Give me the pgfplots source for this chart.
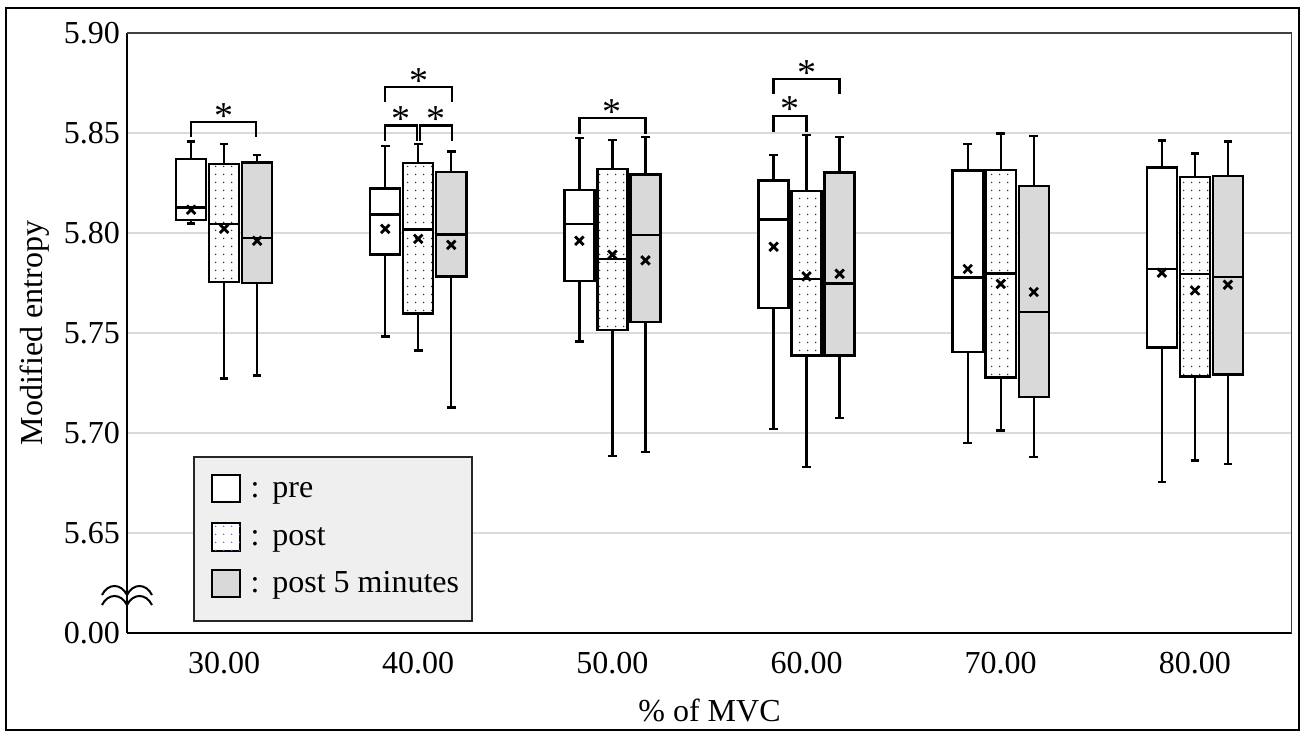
\documentclass[border=0pt]{standalone}
\usepackage{fontspec}
\setmainfont{Liberation Serif}
\usepackage{pgfplots}
\pgfplotsset{compat=1.18}
\usepgfplotslibrary{statistics}
\usetikzlibrary{patterns.meta}

\definecolor{boxgray}{HTML}{D9D9D9}
\definecolor{leggray}{HTML}{EFEFEF}
\definecolor{gridgray}{HTML}{DADADA}
\newcommand{\bigfont}{\fontsize{16}{19}\selectfont}

\pgfplotsset{
  bpre/.style={draw=black, line width=1.2pt, fill=white},
  bpost/.style={draw=black, line width=1.2pt, fill=white,
    boxplot/every box/.style={postaction={pattern={Dots[distance=4pt,radius=0.45pt]},
      pattern color=black!80}}},
  bpost5/.style={draw=black, line width=1.2pt, fill=boxgray},
}
% style, position, lower whisker, lower quartile, median, upper quartile, upper whisker
\newcommand{\onebox}[7]{%
  \addplot[#1, boxplot prepared={draw direction=y, draw position=#2, box extend=0.155,
    whisker extend=0.045, lower whisker=#3, lower quartile=#4, median=#5,
    upper quartile=#6, upper whisker=#7}] coordinates {};}
\newcommand{\bracket}[4]{% x1, x2, level, leg bottom
  \draw[line width=1.1pt] (axis cs:#1,#4) |- (axis cs:#2,#3) -- (axis cs:#2,#4);
  \node[font=\fontsize{19}{22}\selectfont, anchor=base, inner sep=0pt, yshift=-3pt]
    at (axis cs:{(#1+#2)/2},#3) {*};}

\begin{document}
\begin{tikzpicture}
\begin{scope}[x=0.5pt, y=-0.5pt, shift={(-127,-633)}]
  \useasboundingbox (0,0) rectangle (1303,734);
\end{scope}

\begin{axis}[
  at={(0,0)}, anchor=south west, scale only axis,
  width=582.5pt, height=300pt,
  xmin=-0.5, xmax=5.5, ymin=5.60, ymax=5.90,
  boxplot/draw direction=y,
  xtick={0,1,2,3,4,5},
  xticklabels={30.00,40.00,50.00,60.00,70.00,80.00},
  ytick={5.60,5.65,5.70,5.75,5.80,5.85,5.90},
  yticklabels={0.00,5.65,5.70,5.75,5.80,5.85,5.90},
  major tick length=0pt,
  axis x line*=bottom, axis y line*=left,
  axis line style={line width=1.3pt, black, -},
  ymajorgrids, grid style={gridgray, line width=0.6pt},
  tick label style={font=\bigfont, /pgf/number format/assume math mode=true},
  xticklabel style={anchor=base, yshift=-20pt},
  label style={font=\bigfont},
  xlabel={\% of MVC},
  ylabel={Modified entropy},
  xlabel style={at={(axis description cs:0.5,-0.148)}, anchor=base},
  ylabel style={at={(axis description cs:-0.079,0.5)}, anchor=center},
]
% 30
\onebox{bpre}{-0.17}{5.8047}{5.8064}{5.8127}{5.8369}{5.8457}
\onebox{bpost}{0}{5.7273}{5.7755}{5.8044}{5.8344}{5.8446}
\onebox{bpost5}{0.17}{5.7288}{5.7750}{5.7974}{5.8352}{5.8389}
% 40
\onebox{bpre}{0.83}{5.7483}{5.7893}{5.8092}{5.8222}{5.8436}
\onebox{bpost}{1}{5.7413}{5.7598}{5.8017}{5.8349}{5.8444}
\onebox{bpost5}{1.17}{5.7127}{5.7783}{5.7993}{5.8304}{5.8407}
% 50
\onebox{bpre}{1.83}{5.7457}{5.7760}{5.8046}{5.8216}{5.8474}
\onebox{bpost}{2}{5.6884}{5.7515}{5.7870}{5.8321}{5.8466}
\onebox{bpost5}{2.17}{5.6906}{5.7555}{5.7991}{5.8292}{5.8479}
% 60
\onebox{bpre}{2.83}{5.7021}{5.7625}{5.8067}{5.8262}{5.8391}
\onebox{bpost}{3}{5.6829}{5.7388}{5.7770}{5.8211}{5.8490}
\onebox{bpost5}{3.17}{5.7075}{5.7388}{5.7748}{5.8302}{5.8479}
% 70
\onebox{bpre}{3.83}{5.6950}{5.7405}{5.7778}{5.8312}{5.8444}
\onebox{bpost}{4}{5.7012}{5.7278}{5.7798}{5.8316}{5.8497}
\onebox{bpost5}{4.17}{5.6880}{5.7180}{5.7606}{5.8236}{5.8484}
% 80
\onebox{bpre}{4.83}{5.6754}{5.7428}{5.7821}{5.8327}{5.8462}
\onebox{bpost}{5}{5.6862}{5.7283}{5.7796}{5.8281}{5.8397}
\onebox{bpost5}{5.17}{5.6844}{5.7292}{5.7781}{5.8286}{5.8457}

% means
\addplot[only marks, mark=x, mark size=3pt, mark options={line width=1.4pt, black}]
  coordinates {
  (-0.17,5.8116) (0,5.8021) (0.17,5.7961)
  (0.83,5.8021) (1,5.7971) (1.17,5.7941)
  (1.83,5.7961) (2,5.7891) (2.17,5.7863)
  (2.83,5.7931) (3,5.7783) (3.17,5.7796)
  (3.83,5.7820) (4,5.7746) (4.17,5.7705)
  (4.83,5.7801) (5,5.7713) (5.17,5.7741)
  };

% significance brackets
\bracket{-0.17}{0.165}{5.8553}{5.8480}
\bracket{0.83}{1.175}{5.8729}{5.8657}
\bracket{0.83}{0.992}{5.8537}{5.8462}
\bracket{1.008}{1.175}{5.8537}{5.8462}
\bracket{1.83}{2.17}{5.8574}{5.8495}
\bracket{2.83}{3.0}{5.8585}{5.8505}
\bracket{2.83}{3.17}{5.8769}{5.8695}

% thin top and right frame
\draw[black!75, line width=0.8pt] (rel axis cs:0,1) -- (rel axis cs:1,1) -- (rel axis cs:1,0);
\end{axis}

\begin{scope}[x=0.5pt, y=-0.5pt, shift={(-127,-633)}]
  % outer frame
  \draw[black, line width=1pt] (6,8) rectangle (1299,730);
  % axis break
  \foreach \yb in {595,605}{
    \draw[line width=1pt] (102,\yb) .. controls (108,\yb-12) and (121,\yb-12) .. (127,\yb)
      .. controls (133,\yb-12) and (146,\yb-12) .. (152,\yb);
  }
  % legend
  \draw[fill=leggray, draw=black!85, line width=0.8pt] (194,457) rectangle (472,621);
  \draw[line width=1.2pt, fill=white] (212,475) rectangle (240,502);
  \draw[line width=1.2pt, fill=white, postaction={pattern={Dots[distance=4pt,radius=0.45pt]},
      pattern color=blue!60}] (212,523) rectangle (240,551);
  \draw[line width=1.2pt, fill=boxgray] (212,570) rectangle (240,597);
  \foreach \yy/\tt in {498/pre, 546/post, 593/post 5 minutes}{
    \node[font=\bigfont, anchor=base, inner sep=0pt] at (255,\yy) {:};
    \node[font=\bigfont, anchor=base west, inner sep=0pt] at (272,\yy) {\tt};
  }
\end{scope}
\end{tikzpicture}
\end{document}
